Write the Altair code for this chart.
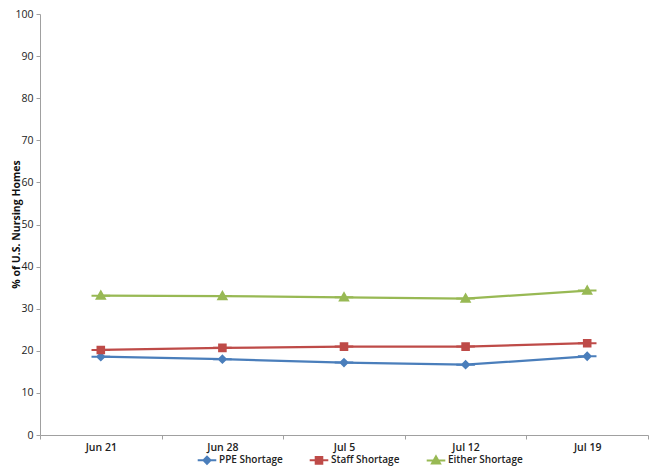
import altair as alt
import pandas as pd

dates = ["Jun 21", "Jun 28", "Jul 5", "Jul 12", "Jul 19"]
series_names = ["PPE Shortage", "Staff Shortage", "Either Shortage"]
ppe = [18.6, 18.0, 17.2, 16.7, 18.7]
staff = [20.2, 20.7, 21.0, 21.0, 21.8]
either = [33.1, 33.0, 32.7, 32.4, 34.3]
colors = ["#4A7EBB", "#BE4B48", "#98B954"]
y_ticks = [0, 10, 20, 30, 40, 50, 60, 70, 80, 90, 100]

rows = []
for name, vals in zip(series_names, [ppe, staff, either]):
    for d, v in zip(dates, vals):
        rows.append({"date": d, "series": name, "value": v})
df = pd.DataFrame(rows)

# marker + short line segment (for legend look); line part overlaps the series line
shapes = [
    "M-2.4,0H2.4M0,-0.9L0.9,0L0,0.9L-0.9,0Z",
    "M-2.4,0H2.4M-0.85,-0.85H0.85V0.85H-0.85Z",
    "M-2.4,0H2.4M0,-1.05L1.05,0.8H-1.05Z",
]

font = "Open Sans"

x = alt.X(
    "date:N",
    sort=dates,
    scale=alt.Scale(type="band", paddingInner=0, paddingOuter=0),
    bandPosition=0.5,
    axis=alt.Axis(
        title=None, labelAngle=0, tickBand="extent", labelFont=font, labelFontSize=10.5,
        labelFontWeight=600, labelColor="#222222", domainColor="#A0A0A0", tickColor="#A0A0A0",
        tickSize=4, labelPadding=3, grid=False,
    ),
)
y = alt.Y(
    "value:Q",
    scale=alt.Scale(domain=[0, 100], nice=False),
    axis=alt.Axis(
        title="% of U.S. Nursing Homes", values=y_ticks, grid=False, labelFont=font,
        labelFontSize=10.5, labelColor="#222222", titleFont=font, titleFontSize=10.5,
        titleFontWeight="bold", titleColor="#111111", domainColor="#A0A0A0",
        tickColor="#A0A0A0", tickSize=4, labelPadding=3,
        titleX=-24, titleY=210, titleAngle=270, titleAlign="center", titleBaseline="middle",
    ),
)
color_scale = alt.Scale(domain=series_names, range=colors)

lines = alt.Chart(df).mark_line(strokeWidth=2.25).encode(
    x=x, y=y,
    color=alt.Color("series:N", scale=color_scale, title=None),
    detail="series:N",
)
points = alt.Chart(df).mark_point(filled=True, size=60, strokeWidth=2, opacity=1).encode(
    x=x, y=y,
    color=alt.Color("series:N", scale=color_scale, title=None),
    stroke=alt.Stroke("series:N", scale=color_scale, title=None),
    shape=alt.Shape("series:N", scale=alt.Scale(domain=series_names, range=shapes), title=None),
)

chart = (
    alt.layer(lines, points)
    .properties(
        width=608, height=421,
        autosize=alt.AutoSizeParams(type="none"),
        padding={"left": 32, "top": 6, "right": 1, "bottom": 31},
    )
    .configure_view(stroke=None)
    .configure_legend(
        orient="none", legendX=162, legendY=441, direction="horizontal", labelFont=font,
        labelFontSize=10, labelFontWeight=600, labelColor="#222222", symbolStrokeWidth=2,
        columnPadding=22, symbolSize=60, labelOffset=7, padding=0,
    )
)

chart.save("out.html", embed_options={"renderer": "svg", "actions": False})
